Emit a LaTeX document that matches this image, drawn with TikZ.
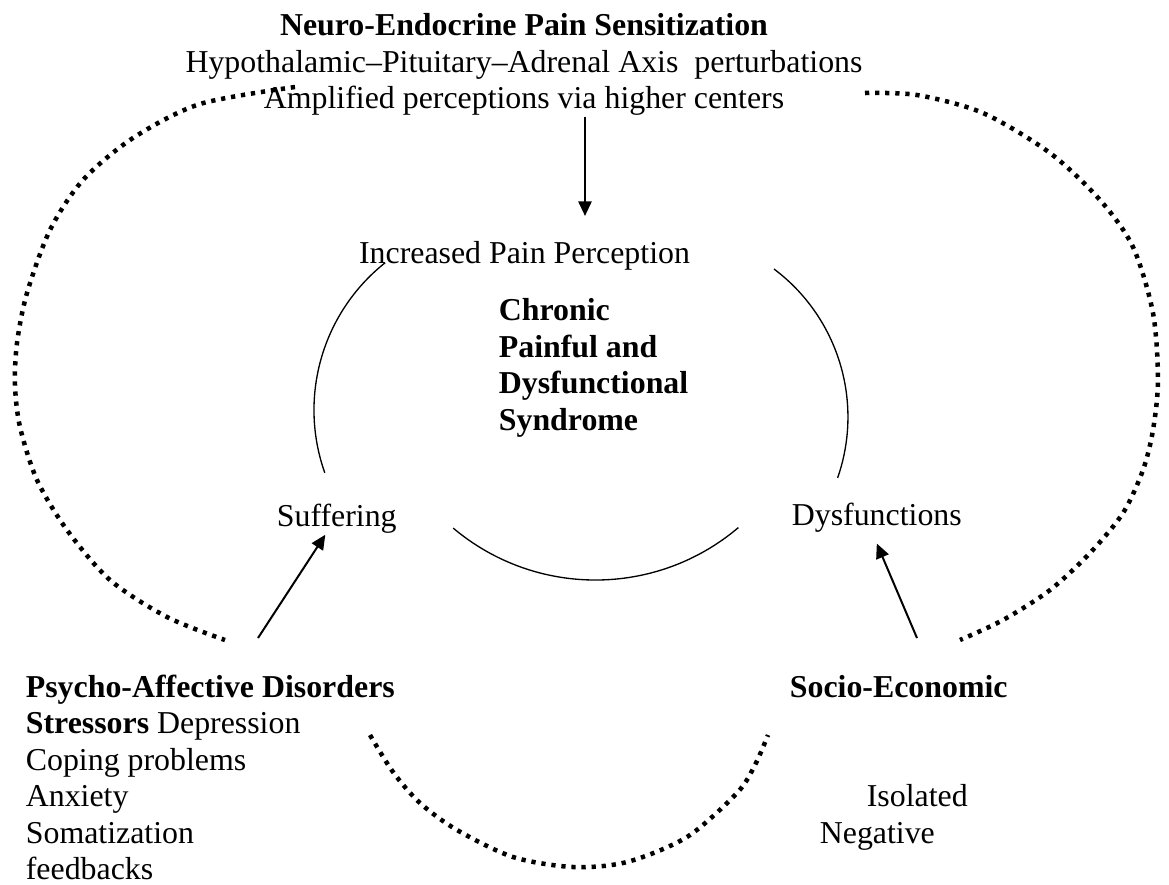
\documentclass[tikz,border=0pt]{standalone}
\usepackage{fontspec}
\setmainfont{Liberation Serif}
\usepackage{tikz}
\usetikzlibrary{arrows.meta}

\begin{document}
\begin{tikzpicture}[x=0.37665pt, y=-0.37665pt,
	every node/.style={inner sep=0.5pt, font=\fontsize{12}{13.8}\selectfont},
	hd/.style={font=\fontsize{12}{13.8}\selectfont\bfseries},
	pfeil/.style={-{Triangle[length=5.5pt, width=5pt]}, line width=0.75pt},
	cyc/.style={line width=0.5pt},
	dotline/.style={line width=1.7pt, dash pattern=on 1.6pt off 2.2pt}]
			\useasboundingbox (0,0) rectangle (1169,885);
			% Top block
			\node[hd, anchor=base] (neuro) at (524,35) {Neuro-Endocrine Pain Sensitization};
			\node[anchor=base] (hpa) at (524,72) {Hypothalamic--Pituitary--Adrenal Axis\ \ perturbations};
			\node[anchor=base] (ampl) at (524,108) {Amplified perceptions via higher centers};
			% Inner cycle
			\node[anchor=base] (pain) at (524.5,263) {Increased Pain Perception};
			\node[hd, anchor=base west] (chr1) at (497,320) {Chronic};
			\node[hd, anchor=base west] (chr2) at (497,357) {Painful and};
			\node[hd, anchor=base west] (chr3) at (497,393) {Dysfunctional};
			\node[hd, anchor=base west] (chr4) at (497,430) {Syndrome};
			\node[anchor=base west] (suff) at (275,526) {Suffering};
			\node[anchor=base west] (dysf) at (790,525) {Dysfunctions};
			% Psycho-affective side
			\node[hd, anchor=base west] (psycho) at (24,697) {Psycho-Affective Disorders};
			\node[anchor=base west] (psy1) at (24,733.5) {\textbf{Stressors} Depression};
			\node[anchor=base west] (psy2) at (24,770) {Coping problems};
			\node[anchor=base west] (psy3) at (24,806.5) {Anxiety};
			\node[anchor=base west] (psy4) at (24,843) {Somatization};
			\node[anchor=base west] (psy5) at (24,879.5) {feedbacks};
			% Socio-economic side
			\node[hd, anchor=base west] (socio) at (788,697) {Socio-Economic};
			\node[anchor=base west] (soc1) at (865,806.5) {Isolated};
			\node[anchor=base west] (soc2) at (818,843) {Negative};
			% Arcs of the cycle
			\draw[cyc] (385.2,262.7) arc[start angle=128.4, end angle=199.5, radius=70.8pt];
			\draw[cyc] (774,269) arc[start angle=53.1, end angle=-19.2, radius=69.7pt];
			\draw[cyc] (453.2,528.1) arc[start angle=229.9, end angle=310.3, radius=83.2pt];
			% Dotted outer loop
			\draw[dotline] plot[smooth] coordinates {(295,87) (200,104) (133,138) (83,180) (50,230) (27,293) (17,343) (15,385) (20,427) (37,480) (67,530) (110,580) (167,617) (225,640)};
			\draw[dotline] plot[smooth] coordinates {(865,93) (917,95) (983,113) (1050,153) (1100,200) (1133,247) (1153,313) (1158,380) (1153,430) (1143,470) (1123,513) (1090,553) (1050,590) (1003,620) (960,640)};
			\draw[dotline] plot[smooth] coordinates {(370,735) (393,772) (420,803) (457,830) (513,857) (573,867) (627,862) (687,837) (737,793) (755,765) (768,735)};
			% Arrows
			\coordinate (pline) at (585,0);
			\coordinate (psytail) at (258,638);
			\coordinate (soctail) at (917,638);
			\draw[pfeil, shorten >=8.7pt] (ampl.south -| pline) -- (pain.north -| pline);
			\draw[pfeil] (psytail) -- ([xshift=-4.3pt]suff.south);
			\draw[pfeil] (soctail) -- ([yshift=-3.7pt]dysf.south);
		\end{tikzpicture}
\end{document}
